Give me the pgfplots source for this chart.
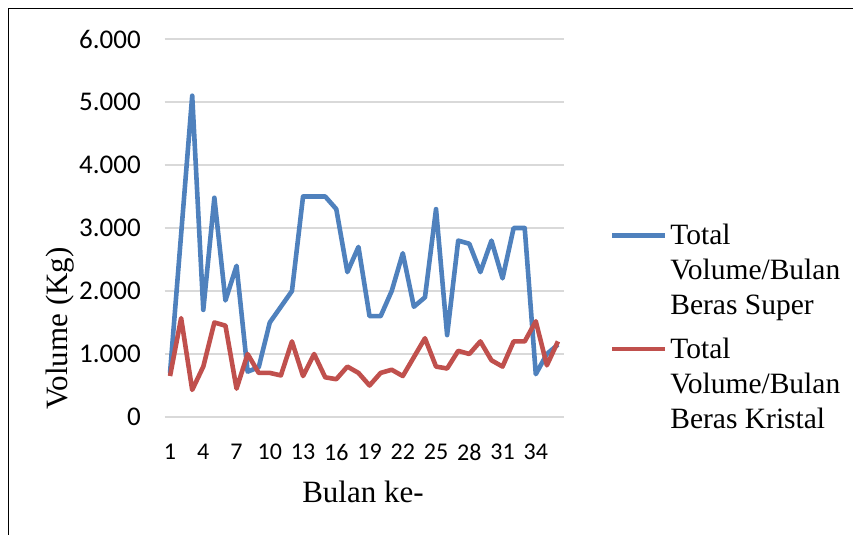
\documentclass[border=0pt]{standalone}
\usepackage{pgfplots}
\pgfplotsset{compat=1.18}
\usepackage{fontspec}
\setmainfont{Liberation Serif}
\newfontfamily\tickfont{Carlito}
\definecolor{sblue}{HTML}{4F81BD}
\definecolor{sred}{HTML}{C0504D}
\definecolor{gridc}{HTML}{D9D9D9}

\pgfplotstableread{
x y
1 700
2 2900
3 5100
4 1700
5 3480
6 1850
7 2400
8 720
9 790
10 1500
11 1750
12 2000
13 3500
14 3500
15 3500
16 3300
17 2300
18 2700
19 1600
20 1600
21 2000
22 2600
23 1750
24 1900
25 3300
26 1300
27 2800
28 2750
29 2300
30 2800
31 2200
32 3000
33 3000
34 680
35 1000
36 1150
}\super

\pgfplotstableread{
x y
1 650
2 1570
3 430
4 800
5 1500
6 1450
7 450
8 1000
9 700
10 700
11 660
12 1200
13 650
14 1000
15 630
16 600
17 800
18 700
19 500
20 700
21 750
22 650
23 950
24 1250
25 800
26 770
27 1050
28 1000
29 1200
30 900
31 800
32 1200
33 1200
34 1520
35 820
36 1200
}\kristal

\begin{document}
\begin{tikzpicture}
\useasboundingbox (0,0) rectangle (853bp,535bp);
\draw[line width=1.3bp, black] (8.5bp,-5bp) -- (8.5bp,526.5bp) -- (860bp,526.5bp);
\begin{axis}[
  at={(164.5bp,118bp)}, anchor=south west,
  scale only axis, width=399bp, height=378bp,
  xmin=0.5, xmax=36.5, ymin=0, ymax=6000,
  axis line style={draw=none},
  major tick length=0pt,
  ymajorgrids, grid style={gridc, line width=1.3bp},
  xtick={1,4,...,34},
  xticklabels={1,4,7,10,13,16,19,22,25,28,31,34},
  ytick={0,1000,...,6000},
  yticklabels={0,{1.000},{2.000},{3.000},{4.000},{5.000},{6.000}},
  tick label style={inner sep=0pt},
  yticklabel style={anchor=east, xshift=-23.5bp, font=\tickfont\fontsize{27bp}{32bp}\selectfont},
  xticklabel style={anchor=north, yshift=-27bp, font=\tickfont\fontsize{24bp}{29bp}\selectfont},
  xlabel={Bulan ke-},
  xlabel style={at={(0.4975,-0.2275)}, anchor=base, font=\fontsize{31bp}{36bp}\selectfont, inner sep=0pt},
  ylabel={Volume (Kg)},
  ylabel style={at={(-0.2419,0.2341)}, anchor=base, font=\fontsize{31bp}{36bp}\selectfont, inner sep=0pt},
  legend style={at={(1.1160,0.5106)}, anchor=north west, draw=none, fill=none,
    inner sep=0pt, row sep=21bp, column sep=2.75bp,
    font=\fontsize{29.5bp}{35bp}\selectfont,
    cells={anchor=north west},
    nodes={inner sep=0pt, align=left}},
  legend image code/.code={\draw[#1, line width=4.6bp] (0bp,-11.6bp) -- (53bp,-11.6bp);},
  clip=false,
]
\addplot[sblue, line width=4.6bp, line join=round] table[x=x,y=y] {\super};
\addlegendentry{Total\\Volume/Bulan\\Beras Super}
\addplot[sred, line width=4.6bp, line join=round] table[x=x,y=y] {\kristal};
\addlegendentry{Total\\Volume/Bulan\\Beras Kristal}
\end{axis}
\end{tikzpicture}
\end{document}
